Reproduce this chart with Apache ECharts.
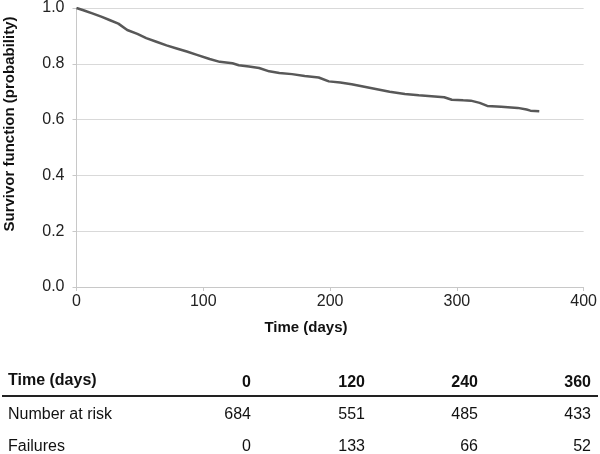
<!DOCTYPE html>
<html>
<head>
<meta charset="utf-8">
<script src="https://cdn.jsdelivr.net/npm/echarts@6/dist/echarts.min.js"></script>
<style>html,body{margin:0;padding:0;background:#fff}#c{width:600px;height:454px}</style>
</head>
<body>
<div id="c"></div>
<script>
// Survival curve
const days = [0,6,13,20,26,33,40,48,55,63,71,79,87,95,105,113,123,128,136,144,152,160,170,180,191,199,208,217,226,236,247,259,270,280,290,296,305,311,318,324,335,348,355,358,365];
const survival = [1.000,0.991,0.980,0.968,0.957,0.944,0.921,0.907,0.892,0.879,0.866,0.855,0.844,0.832,0.817,0.807,0.802,0.795,0.790,0.785,0.773,0.767,0.763,0.756,0.751,0.737,0.733,0.727,0.719,0.710,0.700,0.692,0.687,0.684,0.680,0.671,0.669,0.668,0.660,0.649,0.646,0.642,0.636,0.632,0.630];

// Risk table
const tableTimes = ['0','120','240','360'];
const atRisk = ['684','551','485','433'];
const failures = ['0','133','66','52'];
const tableHeader = 'Time (days)';
const rowLabels = ['Number at risk','Failures'];
const xTitle = 'Time (days)';
const yTitle = 'Survivor function (probability)';

const FONT = '"Liberation Sans", Arial, sans-serif';
const chart = echarts.init(document.getElementById('c'), null, {renderer:'canvas'});

const colRight = [251, 365, 478, 591];
const graphics = [];
graphics.push({type:'text', left:8, top:373, style:{text:tableHeader, font:'bold 16px '+FONT, fill:'#111'}});
tableTimes.forEach((t,i)=>graphics.push({type:'text', x:colRight[i], y:383, style:{text:t, font:'bold 16px '+FONT, fill:'#111', textAlign:'right', textVerticalAlign:'middle'}}));
graphics.push({type:'line', shape:{x1:2,y1:396,x2:598,y2:396}, style:{stroke:'#222', lineWidth:2}});
graphics.push({type:'text', x:8, y:415, style:{text:rowLabels[0], font:'16px '+FONT, fill:'#111', textVerticalAlign:'middle'}});
atRisk.forEach((t,i)=>graphics.push({type:'text', x:colRight[i], y:415, style:{text:t, font:'16px '+FONT, fill:'#111', textAlign:'right', textVerticalAlign:'middle'}}));
graphics.push({type:'text', x:8, y:447, style:{text:rowLabels[1], font:'16px '+FONT, fill:'#111', textVerticalAlign:'middle'}});
failures.forEach((t,i)=>graphics.push({type:'text', x:colRight[i], y:447, style:{text:t, font:'16px '+FONT, fill:'#111', textAlign:'right', textVerticalAlign:'middle'}}));
graphics.push({type:'text', x:306, y:328, style:{text:xTitle, font:'bold 15px '+FONT, fill:'#111', textAlign:'center', textVerticalAlign:'middle'}});
graphics.push({type:'text', x:10, y:124, rotation:Math.PI/2, style:{text:yTitle, font:'bold 15px '+FONT, fill:'#111', textAlign:'center', textVerticalAlign:'middle'}});

chart.setOption({
  animation:false,
  grid:{left:76.5, right:14, top:7, bottom:167, containLabel:false},
  xAxis:{type:'value', min:0, max:400, interval:100,
    axisLine:{show:true, lineStyle:{color:'#c8c8c8', width:1}},
    axisTick:{show:true, length:4, lineStyle:{color:'#c8c8c8'}},
    axisLabel:{fontFamily:FONT, fontSize:16, color:'#222', margin:7},
    splitLine:{show:false}},
  yAxis:{type:'value', min:0, max:1, interval:0.2,
    axisLine:{show:true, lineStyle:{color:'#c8c8c8', width:1}},
    axisTick:{show:true, length:4, lineStyle:{color:'#c8c8c8'}},
    axisLabel:{fontFamily:FONT, fontSize:16, color:'#222', margin:12, formatter:v=>v.toFixed(1)},
    splitLine:{show:true, lineStyle:{color:'#d9d9d9', width:1}}},
  series:[{type:'line', data:days.map((d,i)=>[d,survival[i]]), showSymbol:false, symbol:'none',
    lineStyle:{color:'#585858', width:2.5}}],
  graphic:graphics
});
</script>
</body>
</html>
